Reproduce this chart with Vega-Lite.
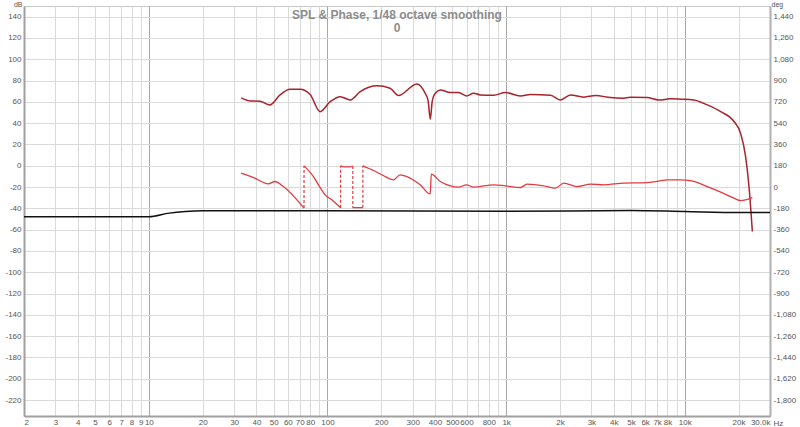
{
  "$schema": "https://vega.github.io/schema/vega-lite/v6.json",
  "width": 746,
  "height": 410,
  "autosize": "none",
  "padding": {"left": 24, "top": 6, "right": 30, "bottom": 11},
  "background": "white",
  "config": {
    "view": {"stroke": "#c8c8c8", "strokeWidth": 1},
    "axis": {"labelFont": "Liberation Sans", "labelFontSize": 8, "labelColor": "#555555", "titleFont": "Liberation Sans", "titleFontSize": 8, "titleFontWeight": "normal", "titleColor": "#555555", "ticks": false}
  },
  "title": {
    "text": "SPL & Phase, 1/48 octave smoothing",
    "subtitle": "0",
    "anchor": "middle",
    "frame": "group",
    "offset": -35,
    "font": "Liberation Sans",
    "fontSize": 12,
    "fontWeight": "bold",
    "color": "#8c8c8c",
    "subtitleFont": "Liberation Sans",
    "subtitleFontSize": 12,
    "subtitleFontWeight": "bold",
    "subtitleColor": "#8c8c8c",
    "subtitlePadding": 1
  },
  "datasets": {
    "mag": [
      {"series": "SPL", "f": 32.9, "db": 63.7},
      {"series": "SPL", "f": 36.8, "db": 60.9},
      {"series": "SPL", "f": 41.9, "db": 60.6},
      {"series": "SPL", "f": 47.6, "db": 57.1},
      {"series": "SPL", "f": 54.2, "db": 66.5},
      {"series": "SPL", "f": 61.7, "db": 71.9},
      {"series": "SPL", "f": 70.2, "db": 71.9},
      {"series": "SPL", "f": 79.8, "db": 67.2},
      {"series": "SPL", "f": 90.9, "db": 50.8},
      {"series": "SPL", "f": 103.5, "db": 60.2},
      {"series": "SPL", "f": 117.8, "db": 64.9},
      {"series": "SPL", "f": 134, "db": 61.8},
      {"series": "SPL", "f": 152.5, "db": 69.6},
      {"series": "SPL", "f": 189, "db": 75},
      {"series": "SPL", "f": 224, "db": 72.8},
      {"series": "SPL", "f": 249.5, "db": 65.9},
      {"series": "SPL", "f": 316, "db": 76.8},
      {"series": "SPL", "f": 352, "db": 68.1},
      {"series": "SPL", "f": 366, "db": 61},
      {"series": "SPL", "f": 376, "db": 43.7},
      {"series": "SPL", "f": 386, "db": 61},
      {"series": "SPL", "f": 401, "db": 68.1},
      {"series": "SPL", "f": 428, "db": 71.2},
      {"series": "SPL", "f": 487, "db": 68.7},
      {"series": "SPL", "f": 542, "db": 68.7},
      {"series": "SPL", "f": 599, "db": 65.6},
      {"series": "SPL", "f": 658, "db": 68.1},
      {"series": "SPL", "f": 716, "db": 66.5},
      {"series": "SPL", "f": 851, "db": 66.2},
      {"series": "SPL", "f": 991, "db": 68.7},
      {"series": "SPL", "f": 1202, "db": 65.6},
      {"series": "SPL", "f": 1368, "db": 66.8},
      {"series": "SPL", "f": 1771, "db": 66.2},
      {"series": "SPL", "f": 2015, "db": 61.8},
      {"series": "SPL", "f": 2294, "db": 66.5},
      {"series": "SPL", "f": 2719, "db": 64.4},
      {"series": "SPL", "f": 3162, "db": 65.9},
      {"series": "SPL", "f": 3839, "db": 64},
      {"series": "SPL", "f": 4464, "db": 63.4},
      {"series": "SPL", "f": 4970, "db": 64.4},
      {"series": "SPL", "f": 6161, "db": 64},
      {"series": "SPL", "f": 7161, "db": 61.8},
      {"series": "SPL", "f": 8318, "db": 62.8},
      {"series": "SPL", "f": 9460, "db": 62.5},
      {"series": "SPL", "f": 11240, "db": 61.8},
      {"series": "SPL", "f": 13370, "db": 57.1},
      {"series": "SPL", "f": 15890, "db": 50.8},
      {"series": "SPL", "f": 18850, "db": 41.5},
      {"series": "SPL", "f": 20520, "db": 30.6},
      {"series": "SPL", "f": 21910, "db": 8.6},
      {"series": "SPL", "f": 22880, "db": -19.5},
      {"series": "SPL", "f": 23900, "db": -61.8},
      {"series": "Ref", "f": 2, "db": -48},
      {"series": "Ref", "f": 10, "db": -48},
      {"series": "Ref", "f": 13, "db": -44.5},
      {"series": "Ref", "f": 16, "db": -43},
      {"series": "Ref", "f": 20, "db": -42.3},
      {"series": "Ref", "f": 100, "db": -42.3},
      {"series": "Ref", "f": 1000, "db": -42.8},
      {"series": "Ref", "f": 5000, "db": -42},
      {"series": "Ref", "f": 10000, "db": -43},
      {"series": "Ref", "f": 20000, "db": -44},
      {"series": "Ref", "f": 30000, "db": -44}
    ],
    "phase": [
      {"seg": 1, "f": 32.8, "deg": 117},
      {"seg": 1, "f": 38.5, "deg": 80},
      {"seg": 1, "f": 46.7, "deg": 27},
      {"seg": 1, "f": 50.8, "deg": 47},
      {"seg": 1, "f": 56.6, "deg": 5},
      {"seg": 1, "f": 73.9, "deg": -178},
      {"seg": 2, "f": 73.9, "deg": 179},
      {"seg": 2, "f": 83.4, "deg": 88},
      {"seg": 2, "f": 89, "deg": 19},
      {"seg": 2, "f": 97, "deg": -66},
      {"seg": 2, "f": 105.7, "deg": -108},
      {"seg": 2, "f": 118.4, "deg": -176},
      {"seg": 3, "f": 118.4, "deg": 179},
      {"seg": 3, "f": 124, "deg": 170},
      {"seg": 3, "f": 133, "deg": 170},
      {"seg": 3, "f": 138.6, "deg": 178},
      {"seg": 4, "f": 138.6, "deg": -174},
      {"seg": 4, "f": 157.8, "deg": -174},
      {"seg": 5, "f": 157.8, "deg": 179},
      {"seg": 5, "f": 180.9, "deg": 140},
      {"seg": 5, "f": 205.7, "deg": 97},
      {"seg": 5, "f": 234, "deg": 61},
      {"seg": 5, "f": 255, "deg": 103},
      {"seg": 5, "f": 278, "deg": 88},
      {"seg": 5, "f": 330, "deg": 19},
      {"seg": 5, "f": 376, "deg": -58},
      {"seg": 5, "f": 381, "deg": 109},
      {"seg": 5, "f": 428, "deg": 47},
      {"seg": 5, "f": 487, "deg": 10},
      {"seg": 5, "f": 542, "deg": -1},
      {"seg": 5, "f": 599, "deg": 19},
      {"seg": 5, "f": 658, "deg": -1},
      {"seg": 5, "f": 851, "deg": 19},
      {"seg": 5, "f": 991, "deg": 10},
      {"seg": 5, "f": 1202, "deg": -4},
      {"seg": 5, "f": 1309, "deg": 24},
      {"seg": 5, "f": 1622, "deg": 10},
      {"seg": 5, "f": 1888, "deg": -9},
      {"seg": 5, "f": 2103, "deg": 33},
      {"seg": 5, "f": 2500, "deg": 4},
      {"seg": 5, "f": 2965, "deg": 24},
      {"seg": 5, "f": 3524, "deg": 19},
      {"seg": 5, "f": 4564, "deg": 33},
      {"seg": 5, "f": 5904, "deg": 36},
      {"seg": 5, "f": 7015, "deg": 47},
      {"seg": 5, "f": 7982, "deg": 61},
      {"seg": 5, "f": 9460, "deg": 61},
      {"seg": 5, "f": 10760, "deg": 55},
      {"seg": 5, "f": 13370, "deg": 4},
      {"seg": 5, "f": 15890, "deg": -43},
      {"seg": 5, "f": 18850, "deg": -94},
      {"seg": 5, "f": 20520, "deg": -114},
      {"seg": 5, "f": 21910, "deg": -108},
      {"seg": 5, "f": 23900, "deg": -89}
    ],
    "wraps": [
      {"f": 73.9, "d1": -178, "d2": 179},
      {"f": 118.4, "d1": -176, "d2": 179},
      {"f": 138.6, "d1": 178, "d2": -174},
      {"f": 157.8, "d1": -174, "d2": 179}
    ]
  },
  "layer": [
    {
      "data": {"name": "mag"},
      "mark": {"type": "line", "interpolate": "monotone", "strokeWidth": 1.5},
      "encoding": {
        "x": {
          "field": "f", "type": "quantitative",
          "scale": {"type": "log", "domain": [2, 30000], "nice": false},
          "axis": {
            "title": "Hz", "titleAngle": 0, "titleAlign": "left", "titleBaseline": "alphabetic", "titleX": 749, "titleY": 9,
            "values": [2,3,4,5,6,7,8,9,10,20,30,40,50,60,70,80,90,100,200,300,400,500,600,700,800,900,1000,2000,3000,4000,5000,6000,7000,8000,9000,10000,20000,30000],
            "labelExpr": "indexof([90,700,900,9000], datum.value) >= 0 ? '' : datum.value >= 30000 ? '30.0k' : datum.value >= 1000 ? (datum.value/1000) + 'k' : '' + datum.value",
            "labelOverlap": false,
            "labelFlush": true,
            "labelPadding": 2,
            "domainColor": "#a0a0a0", "domainWidth": 2,
            "grid": true,
            "gridColor": {"condition": {"test": "indexof([10,100,1000,10000], datum.value) >= 0", "value": "#a8a8a8"}, "value": "#dadada"},
            "gridWidth": 1
          }
        },
        "y": {
          "field": "db", "type": "quantitative",
          "scale": {"domain": [-235, 150], "nice": false, "zero": false},
          "axis": {
            "orient": "left",
            "title": "dB", "titleAngle": 0, "titleAlign": "right", "titleBaseline": "top", "titleFontSize": 7, "titleX": -2, "titleY": -6,
            "values": [-220,-200,-180,-160,-140,-120,-100,-80,-60,-40,-20,0,20,40,60,80,100,120,140],
            "labelExpr": "(datum.value < 0 ? '-' : '') + format(abs(datum.value), ',')",
            "labelPadding": 3,
            "domainColor": "#a0a0a0", "domainWidth": 2,
            "grid": true, "gridColor": "#dadada", "gridWidth": 1
          }
        },
        "color": {
          "field": "series", "type": "nominal",
          "scale": {"domain": ["SPL", "Ref"], "range": ["#a8232b", "#111111"]},
          "legend": null
        }
      }
    },
    {
      "data": {"name": "phase"},
      "mark": {"type": "line", "interpolate": "monotone", "strokeWidth": 1.3, "color": "#e23b40"},
      "encoding": {
        "x": {"field": "f", "type": "quantitative", "scale": {"type": "log", "domain": [2, 30000], "nice": false}},
        "y": {
          "field": "deg", "type": "quantitative",
          "scale": {"domain": [-1935, 1530], "nice": false, "zero": false},
          "axis": {
            "orient": "right",
            "title": "deg", "titleAngle": 0, "titleAlign": "left", "titleBaseline": "top", "titleFontSize": 7, "titleX": 1, "titleY": -6,
            "values": [-1800,-1620,-1440,-1260,-1080,-900,-720,-540,-360,-180,0,180,360,540,720,900,1080,1260,1440],
            "labelExpr": "(datum.value < 0 ? '-' : '') + format(abs(datum.value), ',')",
            "labelPadding": 3,
            "domainColor": "#b0b0b0", "domainWidth": 2,
            "grid": false
          }
        },
        "detail": {"field": "seg", "type": "nominal"}
      }
    },
    {
      "data": {"name": "wraps"},
      "mark": {"type": "rule", "strokeWidth": 1.2, "color": "#e23b40", "strokeDash": [3, 2]},
      "encoding": {
        "x": {"field": "f", "type": "quantitative", "scale": {"type": "log", "domain": [2, 30000], "nice": false}},
        "y": {"field": "d1", "type": "quantitative", "scale": {"domain": [-1935, 1530], "nice": false, "zero": false}, "axis": null},
        "y2": {"field": "d2"}
      }
    }
  ],
  "resolve": {"scale": {"y": "independent"}}
}
